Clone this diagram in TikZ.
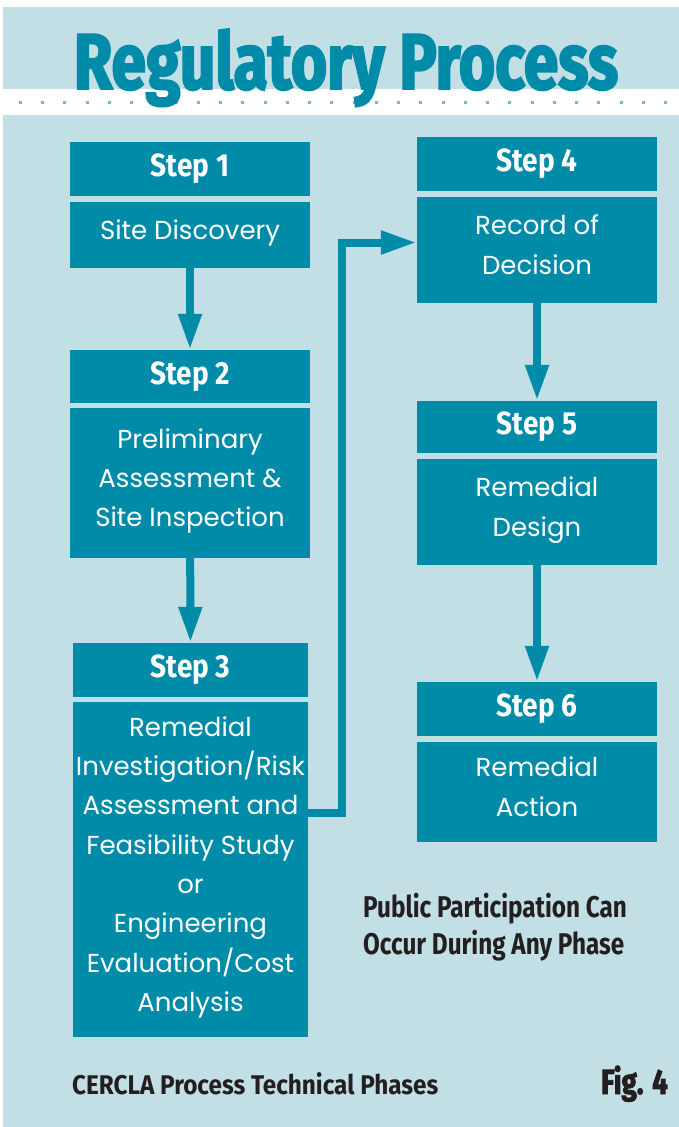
\documentclass[tikz,border=0pt]{standalone}
\usepackage{fontspec}
\setmainfont{Poppins}
\newfontfamily\stepfont[FakeStretch=0.875]{Fira Sans}
\newfontfamily\notefont[FakeStretch=0.81]{Fira Sans}
\newfontfamily\capfont[FakeStretch=0.9]{Fira Sans}
\newfontfamily\titlefont[FakeStretch=0.79,FakeBold=2.5]{Fira Sans}
\usepackage{tikz}
\usetikzlibrary{positioning}
\usetikzlibrary{arrows.meta}

\definecolor{stepteal}{RGB}{0,140,168}
\definecolor{panelblue}{RGB}{194,223,230}
\definecolor{dotblue}{RGB}{110,185,205}
\definecolor{notedark}{RGB}{35,31,32}

\tikzset{
  head/.style={fill=stepteal, text=white, minimum width=240pt, minimum height=54pt, inner sep=0pt,
    font=\stepfont\bfseries\fontsize{32}{32}\selectfont},
  body/.style={fill=stepteal, text=white, minimum width=240pt, inner sep=0pt, align=center,
    text depth=11pt, font=\fontsize{26}{39.3}\selectfont},
  flow/.style={draw=stepteal, line width=8pt, line join=miter, -{Triangle[length=36pt,width=22pt]}},
  note/.style={text=notedark, inner sep=0pt, font=\notefont\bfseries\fontsize{30}{37}\selectfont},
}

\begin{document}
\begin{tikzpicture}[x=1pt, y=-1pt]
  \useasboundingbox (0,0) rectangle (679,1127);
  % panel
  \fill[white] (0,0) rectangle (679,1127);
  \fill[panelblue] (3,7) rectangle (679,89);
  \fill[panelblue] (3,115) rectangle (679,1127);
  \foreach \i in {0,...,29}
    \fill[dotblue] (18.8+22.25*\i,100.5) rectangle ++(3,3);
  \node[text=stepteal, inner sep=0pt, anchor=base, font=\titlefont\bfseries\fontsize{79}{79}\selectfont]
    (title) at (346,89) {Regulatory Process};

  % left column
  \node[head] (s1h) at (190,169) {Step 1};
  \node[body, minimum height=66pt] (s1) at (190,235) {Site Discovery};
  \node[head, minimum height=53pt] (s2h) at (190,376.5) {Step 2};
  \node[body, minimum height=150pt] (s2) at (190,483) {Preliminary\\Assessment \&\\Site Inspection};
  \node[head, minimum width=235pt] (s3h) at (190.5,670) {Step 3};
  \node[body, minimum width=235pt, minimum height=335pt] (s3) at (190.5,869.5)
    {Remedial\\Investigation/Risk\\Assessment and\\Feasibility Study\\or\\Engineering\\Evaluation/Cost\\Analysis};

  % right column
  \node[head] (s4h) at (537,164) {Step 4};
  \node[body, minimum height=106pt] (s4) at (537,250) {Record of\\Decision};
  \node[head, minimum height=52pt] (s5h) at (537,427) {Step 5};
  \node[body, minimum height=106pt] (s5) at (537,512) {Remedial\\Design};
  \node[head] (s6h) at (537,709) {Step 6};
  \node[body, minimum height=100pt] (s6) at (537,792) {Remedial\\Action};

  % arrows
  \draw[flow] (s1) -- (s2h);
  \draw[flow] (s2) -- (s3h);
  \draw[flow] ([yshift=56.5pt]s3.east) -- ++(34,0) |- ([yshift=7.5pt]s4.west);
  \draw[flow] (s4) -- (s5h);
  \draw[flow] (s5) -- (s6h);

  % notes
  \node[note, anchor=west, align=left] (public) at (363,927) {Public Participation Can\\Occur During Any Phase};
  \node[note, anchor=base west, font=\capfont\bfseries\fontsize{27}{27}\selectfont] (caption) at (72,1094)
    {CERCLA Process Technical Phases};
  \node[note, anchor=base east, font=\titlefont\bfseries\fontsize{35}{35}\selectfont] (fig) at (668,1094) {Fig. 4};
\end{tikzpicture}
\end{document}
